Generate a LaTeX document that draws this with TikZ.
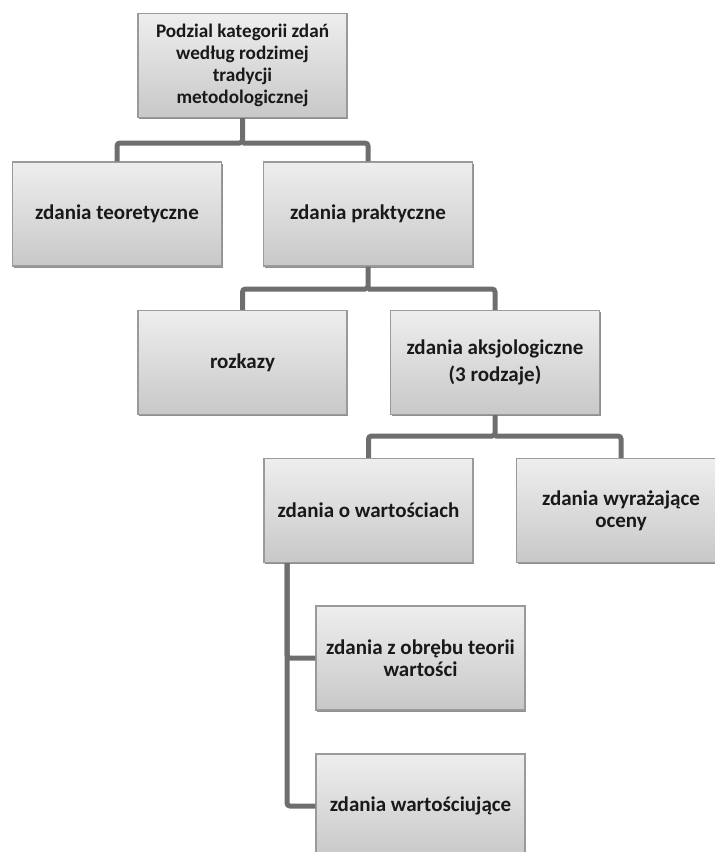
\documentclass[tikz,border=0pt]{standalone}
\usepackage{fontspec}
\setmainfont{Carlito}
\usetikzlibrary{shadows}
\definecolor{boxtop}{HTML}{EEEEEE}
\definecolor{boxbot}{HTML}{C8C8C8}
\definecolor{boxline}{HTML}{9A9A9A}
\definecolor{conn}{HTML}{6E6E6E}
\tikzset{
  box/.style={rectangle, draw=boxline, line width=1.2pt, top color=boxtop, bottom color=boxbot,
    minimum width=209pt, minimum height=104pt, inner sep=4pt, align=center,
    font=\bfseries\fontsize{21}{22}\selectfont, text=black!90,
    drop shadow={shadow xshift=1pt, shadow yshift=-1.5pt, fill=black!55, opacity=.8}},
  link/.style={draw=conn, line width=5pt, rounded corners=3pt}
}
\begin{document}
\begin{tikzpicture}[x=1pt,y=-1pt]
\useasboundingbox (0,0) rectangle (715,852);
\clip (0,0) rectangle (715,852);
\node[box, font=\bfseries\fontsize{19.2}{22}\selectfont] (top) at (242.5,65.5) {Podzial kategorii zdań\\według rodzimej\\tradycji\\metodologicznej};
\node[box] (teo) at (117,214) {zdania teoretyczne};
\node[box] (prak) at (368,214) {zdania praktyczne};
\node[box] (rozk) at (242.5,362.5) {rozkazy};
\node[box, font=\bfseries\fontsize{21}{27}\selectfont] (aks) at (495,362.5) {zdania aksjologiczne\\(3 rodzaje)};
\node[box] (owart) at (368.5,510.5) {zdania o wartościach};
\node[box] (ocen) at (621,510.5) {zdania wyrażające\\oceny};
\node[box] (obreb) at (420.5,658) {zdania z obrębu teorii\\wartości};
\node[box] (wartc) at (420.5,806) {zdania wartościujące};
\coordinate (b1) at (0,143);
\coordinate (b2) at (0,289);
\coordinate (b3) at (0,436);
\coordinate (v4) at (287,0);
\draw[link] (top.south) -- (top.south |- b1) -| (teo.north);
\draw[link] (top.south |- b1) -| (prak.north);
\draw[link] (prak.south) -- (prak.south |- b2) -| (rozk.north);
\draw[link] (prak.south |- b2) -| (aks.north);
\draw[link] (aks.south) -- (aks.south |- b3) -| (owart.north);
\draw[link] (aks.south |- b3) -| (ocen.north);
\draw[link] (owart.south -| v4) |- (obreb.west);
\draw[link] (owart.south -| v4) |- (wartc.west);
\end{tikzpicture}
\end{document}
